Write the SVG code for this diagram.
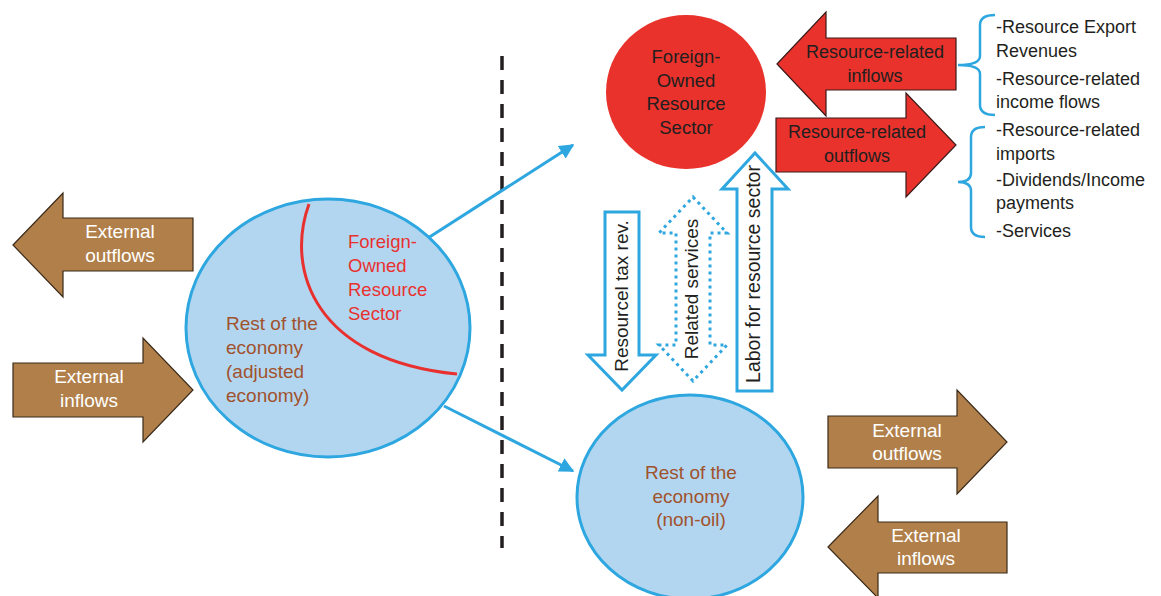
<svg xmlns="http://www.w3.org/2000/svg" width="1161" height="596" viewBox="0 0 1161 596">
<style>
text{font-family:"Liberation Sans",Arial,sans-serif;font-size:18px}
.brown{fill:#b17f4a;stroke:#3a2a1a;stroke-width:1.2}
.red{fill:#e8322b;stroke:#3a1a1a;stroke-width:1.2}
.wt{fill:#ffffff;font-size:19px;text-anchor:middle}
.dk{fill:#231f20}
.bt{fill:#a0522d;font-size:19px}
.rt{fill:#e8312f;font-size:18.5px}
.circ{fill:#b3d6f0;stroke:#2ea7e0;stroke-width:3}
.conn{stroke:#2ea7e0;stroke-width:3;fill:none}
.va{fill:#ffffff;stroke:#2ea7e0;stroke-width:3;stroke-linejoin:miter}
.brace{fill:none;stroke:#2ea7e0;stroke-width:2.5}
</style>
<defs>
<marker id="ah" viewBox="0 0 10 10" refX="9" refY="5" markerWidth="5" markerHeight="5" orient="auto" markerUnits="strokeWidth">
<path d="M0,0 L10,5 L0,10 z" fill="#2ea7e0"/>
</marker>
</defs>
<line x1="502" y1="56" x2="502" y2="548" stroke="#231f20" stroke-width="3.5" stroke-dasharray="14 10"/>
<g id="connectors">
<line class="conn" x1="428" y1="238" x2="573" y2="145" marker-end="url(#ah)"/>
<line class="conn" x1="444" y1="406" x2="573" y2="471" marker-end="url(#ah)"/>
<path class="brace" d="M995,15 Q980,15 980,25 L980,56 Q980,65 958,65 Q980,65 980,74 L980,105 Q980,115 995,115"/>
<path class="brace" d="M985,127 Q971,127 971,137 L971,173 Q971,182 958,182 Q971,182 971,191 L971,227 Q971,237 985,237"/>
</g>
<g id="ext-outflows-left">
<polygon class="brown" points="13,245 63,193 63,218 193,218 193,271 63,271 63,297"/>
<text class="wt" x="120" y="238">External</text>
<text class="wt" x="120" y="262">outflows</text>
</g>
<g id="ext-inflows-left">
<polygon class="brown" points="13,363 143,363 143,338 193,390 143,442 143,417 13,417"/>
<text class="wt" x="89" y="383">External</text>
<text class="wt" x="89" y="407">inflows</text>
</g>
<g id="adjusted-economy">
<ellipse class="circ" cx="328" cy="328" rx="142" ry="129"/>
<path d="M309,204 C285,270 315,360 457,374" fill="none" stroke="#e8312f" stroke-width="3"/>
<text class="rt" x="348" y="248">Foreign-</text>
<text class="rt" x="348" y="272">Owned</text>
<text class="rt" x="348" y="296">Resource</text>
<text class="rt" x="348" y="320">Sector</text>
<text class="bt" x="226" y="330">Rest of the</text>
<text class="bt" x="226" y="354">economy</text>
<text class="bt" x="226" y="378">(adjusted</text>
<text class="bt" x="226" y="402">economy)</text>
</g>
<g id="foreign-sector">
<ellipse cx="686" cy="92" rx="80" ry="77" fill="#e8322b"/>
<text class="dk" x="686" y="63" text-anchor="middle" style="font-size:18.5px">Foreign-</text>
<text class="dk" x="686" y="86.5" text-anchor="middle" style="font-size:18.5px">Owned</text>
<text class="dk" x="686" y="110" text-anchor="middle" style="font-size:18.5px">Resource</text>
<text class="dk" x="686" y="133.5" text-anchor="middle" style="font-size:18.5px">Sector</text>
</g>
<g id="resource-inflows">
<polygon class="red" points="777,64 826,12 826,38 956,38 956,90 826,90 826,116"/>
<text class="dk" x="875" y="58" text-anchor="middle">Resource-related</text>
<text class="dk" x="875" y="82" text-anchor="middle">inflows</text>
</g>
<g id="resource-outflows">
<polygon class="red" points="776,118 906,118 906,93 956,145 906,197 906,172 776,172"/>
<text class="dk" x="857" y="138" text-anchor="middle">Resource-related</text>
<text class="dk" x="857" y="162" text-anchor="middle">outflows</text>
</g>
<g id="inflow-list">
<text class="dk" x="996" y="33">-Resource Export</text>
<text class="dk" x="996" y="57">Revenues</text>
<text class="dk" x="996" y="85">-Resource-related</text>
<text class="dk" x="996" y="108">income flows</text>
</g>
<g id="outflow-list">
<text class="dk" x="996" y="136">-Resource-related</text>
<text class="dk" x="996" y="160">imports</text>
<text class="dk" x="996" y="186">-Dividends/Income</text>
<text class="dk" x="996" y="209">payments</text>
<text class="dk" x="996" y="237">-Services</text>
</g>
<g id="tax-rev">
<polygon class="va" points="605,212 639,212 639,355 656,355 622,390 588,355 605,355"/>
<text class="dk" transform="translate(628,296) rotate(-90)" text-anchor="middle" style="font-size:19px">Resourcel tax rev.</text>
</g>
<g id="related-services">
<polygon class="va" stroke-dasharray="3 4" stroke-width="2.5" points="693,197 727,233 710,233 710,345 727,345 693,381 659,345 676,345 676,233 659,233"/>
<text class="dk" transform="translate(698,289) rotate(-90)" text-anchor="middle" style="font-size:19px">Related services</text>
</g>
<g id="labor">
<polygon class="va" points="755,153 788,189 772,189 772,391 737,391 737,189 722,189"/>
<text class="dk" transform="translate(760,274) rotate(-90)" text-anchor="middle" style="font-size:19.5px">Labor for resource sector</text>
</g>
<g id="non-oil-economy">
<ellipse class="circ" cx="690" cy="497" rx="113" ry="102"/>
<text class="bt" x="691" y="479" text-anchor="middle">Rest of the</text>
<text class="bt" x="691" y="503" text-anchor="middle">economy</text>
<text class="bt" x="691" y="526" text-anchor="middle">(non-oil)</text>
</g>
<g id="ext-outflows-right">
<polygon class="brown" points="828,416 957,416 957,390 1007,442 957,494 957,468 828,468"/>
<text class="wt" x="907" y="437">External</text>
<text class="wt" x="907" y="460">outflows</text>
</g>
<g id="ext-inflows-right">
<polygon class="brown" points="828,547 878,496 878,522 1007,522 1007,573 878,573 878,598"/>
<text class="wt" x="926" y="542">External</text>
<text class="wt" x="926" y="565">inflows</text>
</g>
</svg>
